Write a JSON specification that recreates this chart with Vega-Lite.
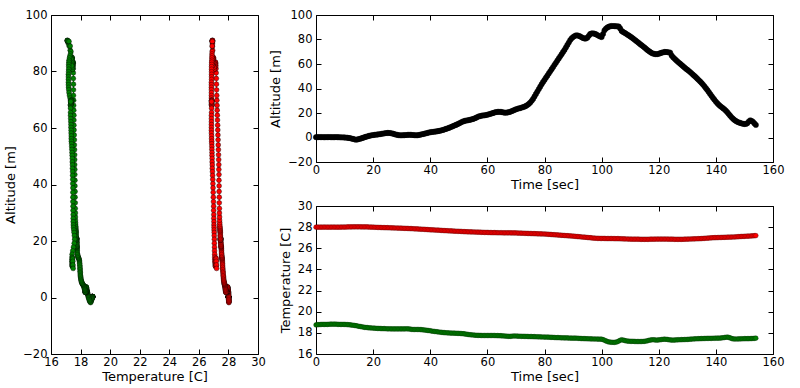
{
"$schema":"https://vega.github.io/schema/vega-lite/v6.json",
"padding":{"left":4,"top":8,"right":5,"bottom":5},
"config":{"font":"DejaVu Sans","view":{"stroke":"#000","strokeWidth":1},
"axis":{"domain":false,"grid":false,"tickColor":"#000","tickSize":-5,"tickWidth":1,"labelColor":"#000","labelFont":"DejaVu Sans","labelFontSize":11.5,"labelOverlap":false,"labelBound":false,"labelFlush":false,"titleFont":"DejaVu Sans","titleFontSize":13,"titleFontWeight":"normal","titleColor":"#000"},
"axisX":{"labelPadding":7,"titlePadding":3},
"axisY":{"labelPadding":9,"titlePadding":5}},
"datasets":{"d":[
{"t":0,"a":0.3,"r":28.0,"g":18.75},{"t":0.5,"a":0.3,"r":28.0,"g":18.77},{"t":1,"a":0.3,"r":28.0,"g":18.78},{"t":1.5,"a":0.3,"r":28.0,"g":18.79},{"t":2,"a":0.3,"r":28.0,"g":18.8},{"t":2.5,"a":0.25,"r":28.0,"g":18.8},{"t":3,"a":0.2,"r":28.01,"g":18.8},{"t":3.5,"a":0.25,"r":28.0,"g":18.8},{"t":4,"a":0.3,"r":28.0,"g":18.8},{"t":4.5,"a":0.3,"r":28.0,"g":18.81},{"t":5,"a":0.3,"r":28.0,"g":18.82},{"t":5.5,"a":0.25,"r":28.0,"g":18.82},{"t":6,"a":0.2,"r":28.01,"g":18.82},{"t":6.5,"a":0.25,"r":28.0,"g":18.82},{"t":7,"a":0.3,"r":28.0,"g":18.82},{"t":7.5,"a":0.25,"r":28.0,"g":18.81},{"t":8,"a":0.2,"r":28.0,"g":18.8},{"t":8.5,"a":0.15,"r":28.0,"g":18.8},{"t":9,"a":0.1,"r":28.01,"g":18.8},{"t":9.5,"a":0.05,"r":28.01,"g":18.8},
{"t":10,"a":0.0,"r":28.01,"g":18.8},{"t":10.5,"a":-0.1,"r":28.01,"g":18.79},{"t":11,"a":-0.2,"r":28.02,"g":18.78},{"t":11.5,"a":-0.4,"r":28.02,"g":18.77},{"t":12,"a":-0.6,"r":28.02,"g":18.75},{"t":12.5,"a":-0.9,"r":28.02,"g":18.74},{"t":13,"a":-1.2,"r":28.03,"g":18.72},{"t":13.5,"a":-1.5,"r":28.03,"g":18.7},{"t":14,"a":-1.8,"r":28.03,"g":18.68},{"t":14.5,"a":-1.6,"r":28.03,"g":18.65},{"t":15,"a":-1.3,"r":28.03,"g":18.62},{"t":15.5,"a":-1.0,"r":28.03,"g":18.6},{"t":16,"a":-0.6,"r":28.02,"g":18.58},{"t":16.5,"a":-0.2,"r":28.02,"g":18.55},{"t":17,"a":0.2,"r":28.02,"g":18.52},{"t":17.5,"a":0.6,"r":28.02,"g":18.51},{"t":18,"a":0.9,"r":28.02,"g":18.5},{"t":18.5,"a":1.3,"r":28.01,"g":18.48},{"t":19,"a":1.6,"r":28.01,"g":18.47},{"t":19.5,"a":1.8,"r":28.0,"g":18.46},
{"t":20,"a":2.0,"r":28.0,"g":18.45},{"t":20.5,"a":2.15,"r":27.99,"g":18.44},{"t":21,"a":2.3,"r":27.98,"g":18.43},{"t":21.5,"a":2.45,"r":27.98,"g":18.42},{"t":22,"a":2.6,"r":27.97,"g":18.42},{"t":22.5,"a":2.8,"r":27.97,"g":18.41},{"t":23,"a":3.0,"r":27.96,"g":18.4},{"t":23.5,"a":3.2,"r":27.96,"g":18.4},{"t":24,"a":3.4,"r":27.95,"g":18.4},{"t":24.5,"a":3.6,"r":27.95,"g":18.39},{"t":25,"a":3.7,"r":27.95,"g":18.38},{"t":25.5,"a":3.7,"r":27.94,"g":18.38},{"t":26,"a":3.6,"r":27.94,"g":18.38},{"t":26.5,"a":3.4,"r":27.93,"g":18.37},{"t":27,"a":3.1,"r":27.93,"g":18.37},{"t":27.5,"a":2.7,"r":27.92,"g":18.37},{"t":28,"a":2.4,"r":27.92,"g":18.37},{"t":28.5,"a":2.1,"r":27.91,"g":18.37},{"t":29,"a":1.9,"r":27.91,"g":18.37},{"t":29.5,"a":1.8,"r":27.9,"g":18.37},
{"t":30,"a":1.8,"r":27.9,"g":18.37},{"t":30.5,"a":1.85,"r":27.89,"g":18.37},{"t":31,"a":1.9,"r":27.89,"g":18.37},{"t":31.5,"a":2.0,"r":27.88,"g":18.38},{"t":32,"a":2.1,"r":27.88,"g":18.38},{"t":32.5,"a":2.2,"r":27.87,"g":18.37},{"t":33,"a":2.2,"r":27.86,"g":18.35},{"t":33.5,"a":2.1,"r":27.86,"g":18.33},{"t":34,"a":2.0,"r":27.85,"g":18.32},{"t":34.5,"a":1.9,"r":27.84,"g":18.32},{"t":35,"a":1.8,"r":27.83,"g":18.32},{"t":35.5,"a":1.85,"r":27.83,"g":18.32},{"t":36,"a":2.0,"r":27.82,"g":18.32},{"t":36.5,"a":2.3,"r":27.81,"g":18.31},{"t":37,"a":2.6,"r":27.8,"g":18.3},{"t":37.5,"a":2.8,"r":27.8,"g":18.28},{"t":38,"a":3.1,"r":27.79,"g":18.27},{"t":38.5,"a":3.4,"r":27.78,"g":18.25},{"t":39,"a":3.7,"r":27.77,"g":18.23},{"t":39.5,"a":4.0,"r":27.76,"g":18.22},
{"t":40,"a":4.3,"r":27.75,"g":18.2},{"t":40.5,"a":4.45,"r":27.75,"g":18.17},{"t":41,"a":4.6,"r":27.74,"g":18.15},{"t":41.5,"a":4.75,"r":27.73,"g":18.13},{"t":42,"a":4.9,"r":27.72,"g":18.12},{"t":42.5,"a":5.1,"r":27.72,"g":18.1},{"t":43,"a":5.3,"r":27.71,"g":18.08},{"t":43.5,"a":5.6,"r":27.7,"g":18.06},{"t":44,"a":5.9,"r":27.69,"g":18.05},{"t":44.5,"a":6.2,"r":27.68,"g":18.03},{"t":45,"a":6.6,"r":27.67,"g":18.02},{"t":45.5,"a":7.0,"r":27.67,"g":18.01},{"t":46,"a":7.4,"r":27.66,"g":18.0},{"t":46.5,"a":7.8,"r":27.65,"g":17.99},{"t":47,"a":8.3,"r":27.64,"g":17.98},{"t":47.5,"a":8.8,"r":27.64,"g":17.98},{"t":48,"a":9.3,"r":27.63,"g":17.97},{"t":48.5,"a":9.8,"r":27.62,"g":17.97},{"t":49,"a":10.3,"r":27.61,"g":17.96},{"t":49.5,"a":10.8,"r":27.61,"g":17.96},
{"t":50,"a":11.4,"r":27.6,"g":17.95},{"t":50.5,"a":12.0,"r":27.6,"g":17.94},{"t":51,"a":12.6,"r":27.59,"g":17.93},{"t":51.5,"a":13.1,"r":27.58,"g":17.92},{"t":52,"a":13.5,"r":27.57,"g":17.9},{"t":52.5,"a":13.8,"r":27.57,"g":17.88},{"t":53,"a":14.0,"r":27.56,"g":17.86},{"t":53.5,"a":14.2,"r":27.56,"g":17.84},{"t":54,"a":14.5,"r":27.55,"g":17.82},{"t":54.5,"a":14.8,"r":27.55,"g":17.81},{"t":55,"a":15.1,"r":27.54,"g":17.8},{"t":55.5,"a":15.6,"r":27.54,"g":17.78},{"t":56,"a":16.1,"r":27.53,"g":17.77},{"t":56.5,"a":16.7,"r":27.53,"g":17.77},{"t":57,"a":17.2,"r":27.52,"g":17.76},{"t":57.5,"a":17.5,"r":27.52,"g":17.76},{"t":58,"a":17.8,"r":27.51,"g":17.75},{"t":58.5,"a":18.0,"r":27.51,"g":17.75},{"t":59,"a":18.1,"r":27.5,"g":17.75},{"t":59.5,"a":18.3,"r":27.5,"g":17.75},
{"t":60,"a":18.6,"r":27.5,"g":17.75},{"t":60.5,"a":18.9,"r":27.49,"g":17.75},{"t":61,"a":19.3,"r":27.49,"g":17.75},{"t":61.5,"a":19.6,"r":27.48,"g":17.75},{"t":62,"a":20.0,"r":27.48,"g":17.75},{"t":62.5,"a":20.4,"r":27.48,"g":17.75},{"t":63,"a":20.7,"r":27.48,"g":17.74},{"t":63.5,"a":20.9,"r":27.47,"g":17.74},{"t":64,"a":21.0,"r":27.47,"g":17.73},{"t":64.5,"a":20.9,"r":27.47,"g":17.73},{"t":65,"a":20.8,"r":27.47,"g":17.72},{"t":65.5,"a":20.5,"r":27.46,"g":17.71},{"t":66,"a":20.3,"r":27.46,"g":17.7},{"t":66.5,"a":20.3,"r":27.46,"g":17.69},{"t":67,"a":20.4,"r":27.46,"g":17.68},{"t":67.5,"a":20.7,"r":27.46,"g":17.67},{"t":68,"a":21.0,"r":27.46,"g":17.67},{"t":68.5,"a":21.5,"r":27.45,"g":17.68},{"t":69,"a":22.0,"r":27.45,"g":17.7},{"t":69.5,"a":22.5,"r":27.45,"g":17.7},
{"t":70,"a":23.0,"r":27.45,"g":17.7},{"t":70.5,"a":23.4,"r":27.44,"g":17.69},{"t":71,"a":23.7,"r":27.44,"g":17.68},{"t":71.5,"a":24.0,"r":27.43,"g":17.68},{"t":72,"a":24.4,"r":27.43,"g":17.67},{"t":72.5,"a":24.8,"r":27.42,"g":17.67},{"t":73,"a":25.2,"r":27.42,"g":17.67},{"t":73.5,"a":25.8,"r":27.41,"g":17.66},{"t":74,"a":26.5,"r":27.41,"g":17.66},{"t":74.5,"a":27.4,"r":27.4,"g":17.65},{"t":75,"a":28.5,"r":27.4,"g":17.65},{"t":75.5,"a":29.9,"r":27.39,"g":17.65},{"t":76,"a":31.5,"r":27.39,"g":17.64},{"t":76.5,"a":33.5,"r":27.38,"g":17.64},{"t":77,"a":35.5,"r":27.38,"g":17.63},{"t":77.5,"a":37.5,"r":27.37,"g":17.63},{"t":78,"a":39.5,"r":27.37,"g":17.62},{"t":78.5,"a":41.5,"r":27.36,"g":17.62},{"t":79,"a":43.5,"r":27.36,"g":17.61},{"t":79.5,"a":45.3,"r":27.35,"g":17.61},
{"t":80,"a":47.0,"r":27.35,"g":17.6},{"t":80.5,"a":48.8,"r":27.34,"g":17.6},{"t":81,"a":50.5,"r":27.33,"g":17.6},{"t":81.5,"a":52.3,"r":27.32,"g":17.59},{"t":82,"a":54.0,"r":27.31,"g":17.58},{"t":82.5,"a":55.8,"r":27.3,"g":17.58},{"t":83,"a":57.5,"r":27.29,"g":17.57},{"t":83.5,"a":59.3,"r":27.28,"g":17.56},{"t":84,"a":61.0,"r":27.27,"g":17.55},{"t":84.5,"a":62.8,"r":27.26,"g":17.55},{"t":85,"a":64.5,"r":27.25,"g":17.55},{"t":85.5,"a":66.3,"r":27.24,"g":17.54},{"t":86,"a":68.0,"r":27.23,"g":17.53},{"t":86.5,"a":69.8,"r":27.22,"g":17.53},{"t":87,"a":71.5,"r":27.21,"g":17.52},{"t":87.5,"a":73.5,"r":27.2,"g":17.52},{"t":88,"a":75.5,"r":27.19,"g":17.52},{"t":88.5,"a":77.5,"r":27.18,"g":17.51},{"t":89,"a":79.5,"r":27.17,"g":17.51},{"t":89.5,"a":81.0,"r":27.16,"g":17.5},
{"t":90,"a":82.0,"r":27.15,"g":17.5},{"t":90.5,"a":82.8,"r":27.14,"g":17.5},{"t":91,"a":83.3,"r":27.12,"g":17.5},{"t":91.5,"a":83.3,"r":27.11,"g":17.49},{"t":92,"a":83.0,"r":27.1,"g":17.48},{"t":92.5,"a":82.5,"r":27.09,"g":17.47},{"t":93,"a":81.8,"r":27.07,"g":17.46},{"t":93.5,"a":81.2,"r":27.06,"g":17.46},{"t":94,"a":80.8,"r":27.05,"g":17.45},{"t":94.5,"a":80.8,"r":27.04,"g":17.45},{"t":95,"a":81.5,"r":27.02,"g":17.44},{"t":95.5,"a":83.0,"r":27.01,"g":17.44},{"t":96,"a":84.5,"r":27.0,"g":17.43},{"t":96.5,"a":84.9,"r":26.98,"g":17.43},{"t":97,"a":85.0,"r":26.97,"g":17.42},{"t":97.5,"a":84.7,"r":26.96,"g":17.42},{"t":98,"a":84.3,"r":26.95,"g":17.42},{"t":98.5,"a":83.6,"r":26.94,"g":17.41},{"t":99,"a":83.0,"r":26.94,"g":17.41},{"t":99.5,"a":82.4,"r":26.93,"g":17.4},
{"t":100,"a":82.0,"r":26.93,"g":17.4},{"t":100.5,"a":84.5,"r":26.93,"g":17.36},{"t":101,"a":87.5,"r":26.93,"g":17.3},{"t":101.5,"a":88.9,"r":26.92,"g":17.24},{"t":102,"a":89.8,"r":26.92,"g":17.18},{"t":102.5,"a":90.4,"r":26.92,"g":17.14},{"t":103,"a":90.8,"r":26.92,"g":17.12},{"t":103.5,"a":91.0,"r":26.92,"g":17.11},{"t":104,"a":91.0,"r":26.92,"g":17.1},{"t":104.5,"a":90.9,"r":26.91,"g":17.1},{"t":105,"a":90.8,"r":26.91,"g":17.12},{"t":105.5,"a":90.7,"r":26.91,"g":17.16},{"t":106,"a":90.6,"r":26.91,"g":17.22},{"t":106.5,"a":89.0,"r":26.9,"g":17.3},{"t":107,"a":87.0,"r":26.9,"g":17.35},{"t":107.5,"a":86.2,"r":26.89,"g":17.32},{"t":108,"a":85.5,"r":26.89,"g":17.28},{"t":108.5,"a":84.8,"r":26.88,"g":17.25},{"t":109,"a":84.0,"r":26.88,"g":17.22},{"t":109.5,"a":83.3,"r":26.87,"g":17.21},
{"t":110,"a":82.5,"r":26.87,"g":17.2},{"t":110.5,"a":81.7,"r":26.86,"g":17.2},{"t":111,"a":80.8,"r":26.86,"g":17.2},{"t":111.5,"a":79.9,"r":26.86,"g":17.19},{"t":112,"a":79.0,"r":26.86,"g":17.18},{"t":112.5,"a":78.1,"r":26.86,"g":17.18},{"t":113,"a":77.2,"r":26.86,"g":17.18},{"t":113.5,"a":76.2,"r":26.85,"g":17.18},{"t":114,"a":75.3,"r":26.85,"g":17.18},{"t":114.5,"a":74.4,"r":26.85,"g":17.19},{"t":115,"a":73.5,"r":26.85,"g":17.2},{"t":115.5,"a":72.5,"r":26.85,"g":17.22},{"t":116,"a":71.5,"r":26.85,"g":17.25},{"t":116.5,"a":70.6,"r":26.85,"g":17.29},{"t":117,"a":69.8,"r":26.86,"g":17.32},{"t":117.5,"a":69.0,"r":26.86,"g":17.34},{"t":118,"a":68.5,"r":26.86,"g":17.35},{"t":118.5,"a":68.2,"r":26.86,"g":17.34},{"t":119,"a":68.0,"r":26.87,"g":17.32},{"t":119.5,"a":68.1,"r":26.87,"g":17.32},
{"t":120,"a":68.3,"r":26.87,"g":17.33},{"t":120.5,"a":68.8,"r":26.87,"g":17.35},{"t":121,"a":69.2,"r":26.87,"g":17.37},{"t":121.5,"a":69.5,"r":26.87,"g":17.39},{"t":122,"a":69.8,"r":26.87,"g":17.4},{"t":122.5,"a":69.8,"r":26.87,"g":17.39},{"t":123,"a":69.7,"r":26.87,"g":17.38},{"t":123.5,"a":69.5,"r":26.86,"g":17.35},{"t":124,"a":69.3,"r":26.86,"g":17.33},{"t":124.5,"a":67.0,"r":26.86,"g":17.32},{"t":125,"a":65.5,"r":26.86,"g":17.32},{"t":125.5,"a":64.4,"r":26.85,"g":17.32},{"t":126,"a":63.3,"r":26.85,"g":17.33},{"t":126.5,"a":62.2,"r":26.85,"g":17.34},{"t":127,"a":61.2,"r":26.85,"g":17.35},{"t":127.5,"a":60.2,"r":26.85,"g":17.35},{"t":128,"a":59.2,"r":26.85,"g":17.36},{"t":128.5,"a":58.2,"r":26.85,"g":17.36},{"t":129,"a":57.2,"r":26.86,"g":17.37},{"t":129.5,"a":56.2,"r":26.86,"g":17.37},
{"t":130,"a":55.3,"r":26.87,"g":17.38},{"t":130.5,"a":54.4,"r":26.87,"g":17.39},{"t":131,"a":53.4,"r":26.88,"g":17.4},{"t":131.5,"a":52.4,"r":26.88,"g":17.41},{"t":132,"a":51.3,"r":26.89,"g":17.42},{"t":132.5,"a":50.3,"r":26.89,"g":17.43},{"t":133,"a":49.2,"r":26.9,"g":17.44},{"t":133.5,"a":48.0,"r":26.9,"g":17.44},{"t":134,"a":46.9,"r":26.91,"g":17.45},{"t":134.5,"a":45.7,"r":26.91,"g":17.45},{"t":135,"a":44.5,"r":26.92,"g":17.46},{"t":135.5,"a":43.2,"r":26.93,"g":17.46},{"t":136,"a":41.8,"r":26.94,"g":17.47},{"t":136.5,"a":40.3,"r":26.95,"g":17.47},{"t":137,"a":38.8,"r":26.96,"g":17.48},{"t":137.5,"a":37.2,"r":26.97,"g":17.48},{"t":138,"a":35.5,"r":26.98,"g":17.48},{"t":138.5,"a":33.9,"r":26.99,"g":17.48},{"t":139,"a":32.3,"r":27.0,"g":17.49},{"t":139.5,"a":30.8,"r":27.0,"g":17.49},
{"t":140,"a":29.3,"r":27.01,"g":17.5},{"t":140.5,"a":28.0,"r":27.01,"g":17.5},{"t":141,"a":26.8,"r":27.02,"g":17.5},{"t":141.5,"a":25.7,"r":27.02,"g":17.51},{"t":142,"a":24.8,"r":27.03,"g":17.52},{"t":142.5,"a":23.9,"r":27.03,"g":17.54},{"t":143,"a":23.0,"r":27.04,"g":17.56},{"t":143.5,"a":21.9,"r":27.04,"g":17.58},{"t":144,"a":20.6,"r":27.05,"g":17.6},{"t":144.5,"a":19.2,"r":27.05,"g":17.57},{"t":145,"a":17.8,"r":27.06,"g":17.52},{"t":145.5,"a":16.5,"r":27.06,"g":17.47},{"t":146,"a":15.3,"r":27.07,"g":17.43},{"t":146.5,"a":14.3,"r":27.07,"g":17.42},{"t":147,"a":13.5,"r":27.08,"g":17.42},{"t":147.5,"a":12.8,"r":27.09,"g":17.42},{"t":148,"a":12.3,"r":27.1,"g":17.43},{"t":148.5,"a":11.9,"r":27.11,"g":17.43},{"t":149,"a":11.5,"r":27.12,"g":17.44},{"t":149.5,"a":11.2,"r":27.12,"g":17.44},
{"t":150,"a":11.0,"r":27.13,"g":17.45},{"t":150.5,"a":11.1,"r":27.14,"g":17.45},{"t":151,"a":11.6,"r":27.15,"g":17.45},{"t":151.5,"a":13.0,"r":27.15,"g":17.45},{"t":152,"a":14.0,"r":27.16,"g":17.46},{"t":152.5,"a":13.6,"r":27.17,"g":17.46},{"t":153,"a":12.8,"r":27.18,"g":17.47},{"t":153.5,"a":11.5,"r":27.19,"g":17.48},{"t":154,"a":10.3,"r":27.2,"g":17.5}
]},
"bounds":"flush",
"spacing":58,
"hconcat":[
{"width":207,"height":339,"data":{"name":"d"},
 "layer":[
  {"layer":[
   {"mark":{"type":"line","color":"#ff0000","strokeWidth":1,"point":{"filled":true,"fill":"#ff0000","stroke":"#000","strokeWidth":0.4,"size":24}},
    "encoding":{"x":{"field":"r","type":"quantitative","scale":{"domain":[16,30],"nice":false,"zero":false},"axis":{"title":"Temperature [C]","values":[16,18,20,22,24,26,28,30]}},
     "y":{"field":"a","type":"quantitative","scale":{"domain":[-20,100],"nice":false},"axis":{"title":"Altitude [m]","values":[-20,0,20,40,60,80,100]}},
     "order":{"field":"t","type":"quantitative"}}},
   {"mark":{"type":"line","color":"#008000","strokeWidth":1,"point":{"filled":true,"fill":"#008000","stroke":"#000","strokeWidth":0.4,"size":24}},
    "encoding":{"x":{"field":"g","type":"quantitative","scale":{"domain":[16,30],"nice":false,"zero":false},"axis":{"title":"Temperature [C]","values":[16,18,20,22,24,26,28,30]}},
     "y":{"field":"a","type":"quantitative","scale":{"domain":[-20,100],"nice":false},"axis":{"title":"Altitude [m]","values":[-20,0,20,40,60,80,100]}},
     "order":{"field":"t","type":"quantitative"}}}
  ]},
  {"mark":{"type":"point","opacity":0},
   "encoding":{"x":{"field":"r","type":"quantitative","axis":{"orient":"top","labels":false,"title":null,"values":[16,18,20,22,24,26,28,30]}},
    "y":{"field":"a","type":"quantitative","axis":{"orient":"right","labels":false,"title":null,"values":[-20,0,20,40,60,80,100]}}}}
 ],
 "resolve":{"axis":{"x":"independent","y":"independent"}}
},
{"vconcat":[
 {"width":457,"height":147,"data":{"name":"d"},
  "layer":[
   {"mark":{"type":"line","color":"#000","strokeWidth":1,"point":{"filled":true,"fill":"#000","stroke":"#000","strokeWidth":0.5,"size":28}},
    "encoding":{"x":{"field":"t","type":"quantitative","scale":{"domain":[0,160],"nice":false},"axis":{"title":"Time [sec]","values":[0,20,40,60,80,100,120,140,160]}},
     "y":{"field":"a","type":"quantitative","scale":{"domain":[-20,100],"nice":false},"axis":{"title":"Altitude [m]","values":[-20,0,20,40,60,80,100]}}}},
   {"mark":{"type":"point","opacity":0},
    "encoding":{"x":{"field":"t","type":"quantitative","axis":{"orient":"top","labels":false,"title":null,"values":[0,20,40,60,80,100,120,140,160]}},
     "y":{"field":"a","type":"quantitative","axis":{"orient":"right","labels":false,"title":null,"values":[-20,0,20,40,60,80,100]}}}}
  ],
  "resolve":{"axis":{"x":"independent","y":"independent"}}},
 {"width":457,"height":148,"data":{"name":"d"},
  "layer":[
   {"layer":[
    {"mark":{"type":"line","color":"#ff0000","strokeWidth":1,"point":{"filled":true,"fill":"#ff0000","stroke":"#500000","strokeWidth":0.4,"size":22}},
     "encoding":{"x":{"field":"t","type":"quantitative","scale":{"domain":[0,160],"nice":false},"axis":{"title":"Time [sec]","values":[0,20,40,60,80,100,120,140,160]}},
      "y":{"field":"r","type":"quantitative","scale":{"domain":[16,30],"nice":false,"zero":false},"axis":{"title":"Temperature [C]","values":[16,18,20,22,24,26,28,30]}}}},
    {"mark":{"type":"line","color":"#008000","strokeWidth":1,"point":{"filled":true,"fill":"#008000","stroke":"#002800","strokeWidth":0.4,"size":22}},
     "encoding":{"x":{"field":"t","type":"quantitative","scale":{"domain":[0,160],"nice":false},"axis":{"title":"Time [sec]","values":[0,20,40,60,80,100,120,140,160]}},
      "y":{"field":"g","type":"quantitative","scale":{"domain":[16,30],"nice":false,"zero":false},"axis":{"title":"Temperature [C]","values":[16,18,20,22,24,26,28,30]}}}}
   ]},
   {"mark":{"type":"point","opacity":0},
    "encoding":{"x":{"field":"t","type":"quantitative","axis":{"orient":"top","labels":false,"title":null,"values":[0,20,40,60,80,100,120,140,160]}},
     "y":{"field":"r","type":"quantitative","axis":{"orient":"right","labels":false,"title":null,"values":[16,18,20,22,24,26,28,30]}}}}
  ],
  "resolve":{"axis":{"x":"independent","y":"independent"}}}
 ],
 "spacing":44,
 "bounds":"flush"}
]
}
